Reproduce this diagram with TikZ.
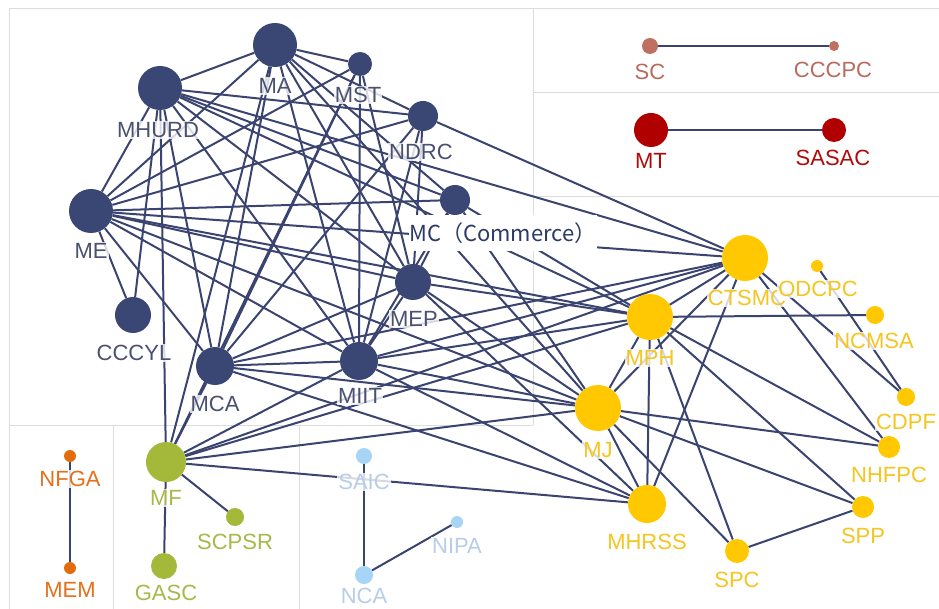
\documentclass[tikz,border=0pt]{standalone}
\usepackage{fontspec}
\setmainfont{Liberation Sans}
\newfontfamily\cjk{Noto Sans CJK SC}
\usetikzlibrary{backgrounds}
\definecolor{navy}{HTML}{3A4775}
\definecolor{edgec}{HTML}{3B4470}
\definecolor{navytxt}{HTML}{4A5070}
\definecolor{mctxt}{HTML}{2E3A66}
\definecolor{gold}{HTML}{FFC800}
\definecolor{goldtxt}{HTML}{F5C520}
\definecolor{olive}{HTML}{A4B83A}
\definecolor{olivetxt}{HTML}{A9B84A}
\definecolor{sky}{HTML}{A8D4F5}
\definecolor{skytxt}{HTML}{B7CDE8}
\definecolor{orng}{HTML}{E36C0A}
\definecolor{orngtxt}{HTML}{E4701C}
\definecolor{brick}{HTML}{C07060}
\definecolor{bricktxt}{HTML}{B76C5E}
\definecolor{crimson}{HTML}{B00000}
\definecolor{crimsontxt}{HTML}{B00A0A}
\definecolor{panel}{HTML}{DCDCDC}
\begin{document}
\begin{tikzpicture}[x=1pt,y=-1pt,
  dot/.style={circle,inner sep=0pt,minimum size=#1},
  nv/.style={dot=#1,fill=navy},
  yl/.style={dot=#1,fill=gold},
  gr/.style={dot=#1,fill=olive},
  lb/.style={dot=#1,fill=sky},
  lbl/.style={font=\fontsize{22}{22}\selectfont,inner sep=1pt,fill=white,fill opacity=0.8,text opacity=1},
  ed/.style={draw=edgec,line width=2pt},
  pl/.style={draw=panel,line width=1pt}]
\useasboundingbox (0,0) rectangle (939,609);
% nodes
\node[nv=44] (MA) at (275,45) {};
\node[nv=24] (MST) at (360,64) {};
\node[nv=44] (MHURD) at (160,88) {};
\node[nv=30] (NDRC) at (423,116) {};
\node[nv=44] (ME) at (91,211) {};
\node[nv=30] (MC) at (455,200) {};
\node[nv=36] (MEP) at (413,282) {};
\node[nv=36] (CCCYL) at (133,315) {};
\node[nv=38] (MCA) at (215,366) {};
\node[nv=38] (MIIT) at (359,361) {};
\node[gr=40] (MF) at (166,462) {};
\node[gr=18] (SCPSR) at (235,517) {};
\node[gr=26] (GASC) at (164,566) {};
\node[dot=12,fill=orng] (NFGA) at (70,456) {};
\node[dot=12,fill=orng] (MEM) at (70,568) {};
\node[lb=16] (SAIC) at (364,456) {};
\node[lb=18] (NCA) at (364,575) {};
\node[lb=12] (NIPA) at (457,522) {};
\node[dot=16,fill=brick] (SC) at (650,46) {};
\node[dot=10,fill=brick] (CCCPC) at (834,46) {};
\node[dot=34,fill=crimson] (MT) at (651,130) {};
\node[dot=24,fill=crimson] (SASAC) at (834,130) {};
\node[yl=46] (CTSMC) at (745,258) {};
\node[yl=12] (ODCPC) at (817,266) {};
\node[yl=46] (MPH) at (650,317) {};
\node[yl=18] (NCMSA) at (875,315) {};
\node[yl=46] (MJ) at (598,408) {};
\node[yl=18] (CDPF) at (906,397) {};
\node[yl=22] (NHFPC) at (889,447) {};
\node[yl=38] (MHRSS) at (647,504) {};
\node[yl=22] (SPP) at (863,507) {};
\node[yl=24] (SPC) at (737,551) {};
% background, panels and edges
\begin{scope}[on background layer]
\fill[white] (0,0) rectangle (939,609);
\draw[pl] (9,609) -- (9,9) -- (939,9);
\draw[pl] (533,9) -- (533,425);
\draw[pl] (533,93) -- (939,93);
\draw[pl] (533,197) -- (939,197);
\draw[pl] (9,425) -- (533,425);
\draw[pl] (113,425) -- (113,609);
\draw[pl] (299,425) -- (299,609);
\foreach \a/\b in {MA/MHURD,MA/MST,MA/NDRC,MA/ME,MA/MC,MA/MEP,MA/MCA,MA/MIIT,MA/MJ,
  MST/MIIT,MST/MEP,MST/MCA,MST/ME,
  MHURD/NDRC,MHURD/MC,MHURD/MEP,MHURD/MIIT,MHURD/ME,MHURD/CCCYL,MHURD/MCA,
  NDRC/ME,NDRC/MCA,NDRC/MIIT,NDRC/MEP,
  ME/CCCYL,ME/MC,ME/MEP,ME/MIIT,ME/MCA,
  MC/MEP,MC/MIIT,MEP/MIIT,MEP/MCA,MCA/MIIT,
  MF/MHURD,MF/MCA,MF/MA,MF/MST,MF/MIIT,MF/CTSMC,MF/MPH,MF/MJ,MF/MHRSS,MF/SCPSR,MF/GASC,
  MHURD/CTSMC,ME/CTSMC,NDRC/CTSMC,MCA/CTSMC,MIIT/CTSMC,
  MHURD/MPH,ME/MPH,MC/MPH,MEP/MPH,MIIT/MPH,
  ME/MJ,MC/MJ,MEP/MJ,MCA/MJ,MIIT/MJ,
  MCA/MHRSS,MIIT/MHRSS,MEP/MHRSS,
  CTSMC/MPH,CTSMC/MJ,CTSMC/MHRSS,CTSMC/NHFPC,CTSMC/CDPF,ODCPC/CDPF,
  MPH/NCMSA,MPH/MJ,MPH/MHRSS,MPH/NHFPC,MPH/SPP,MPH/SPC,
  MJ/MHRSS,MJ/NHFPC,MJ/SPP,MJ/SPC,SPC/SPP,
  NFGA/MEM,SAIC/NCA,NCA/NIPA,SC/CCCPC,MT/SASAC}
  \draw[ed] (\a) -- (\b);
\end{scope}
% labels
\begin{scope}[every node/.style={lbl,text=navytxt}]
\node (MA-l) at (275,86) {MA};
\node (MST-l) at (358,95) {MST};
\node (MHURD-l) at (158,130) {MHURD};
\node (NDRC-l) at (421,152) {NDRC};
\node (ME-l) at (91,251) {ME};
\node (CCCYL-l) at (134,353) {CCCYL};
\node (MCA-l) at (215,404) {MCA};
\node (MIIT-l) at (360,396) {MIIT};
\node (MEP-l) at (414,319) {MEP};
\end{scope}
\node[fill=white,inner sep=0pt,minimum width=188pt,minimum height=36pt,text=mctxt,font=\cjk\fontsize{22}{22}\selectfont] (MC-l) at (503,233) {MC（Commerce）};
\begin{scope}[every node/.style={lbl,text=goldtxt}]
\node (CTSMC-l) at (747,298) {CTSMC};
\node (ODCPC-l) at (818,289) {ODCPC};
\node (NCMSA-l) at (874,341) {NCMSA};
\node (MPH-l) at (650,358) {MPH};
\node (CDPF-l) at (906,422) {CDPF};
\node (MJ-l) at (598,450) {MJ};
\node (NHFPC-l) at (889,475) {NHFPC};
\node (SPP-l) at (863,536) {SPP};
\node (MHRSS-l) at (647,542) {MHRSS};
\node (SPC-l) at (737,580) {SPC};
\end{scope}
\begin{scope}[every node/.style={lbl,text=olivetxt}]
\node (MF-l) at (166,498) {MF};
\node (SCPSR-l) at (235,542) {SCPSR};
\node (GASC-l) at (166,593) {GASC};
\end{scope}
\begin{scope}[every node/.style={lbl,text=skytxt}]
\node (SAIC-l) at (364,482) {SAIC};
\node (NCA-l) at (364,596) {NCA};
\node (NIPA-l) at (457,546) {NIPA};
\end{scope}
\begin{scope}[every node/.style={lbl,text=orngtxt}]
\node (NFGA-l) at (70,479) {NFGA};
\node (MEM-l) at (70,590) {MEM};
\end{scope}
\node[lbl,text=bricktxt] (SC-l) at (650,72) {SC};
\node[lbl,text=bricktxt] (CCCPC-l) at (833,70) {CCCPC};
\node[lbl,text=crimsontxt] (MT-l) at (651,161) {MT};
\node[lbl,text=crimsontxt] (SASAC-l) at (833,158) {SASAC};
\end{tikzpicture}
\end{document}
